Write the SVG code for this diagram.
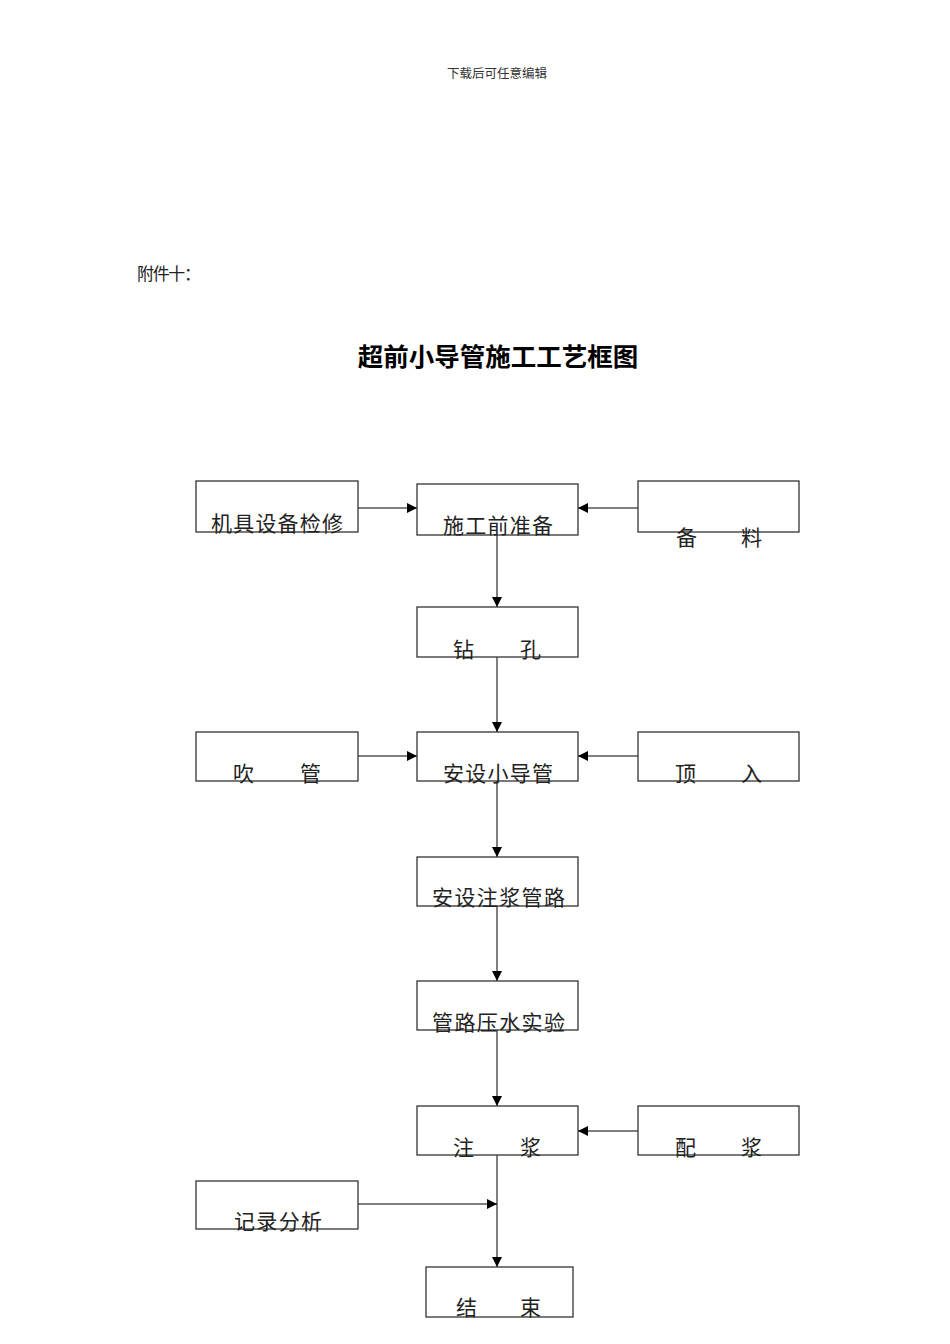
<svg xmlns="http://www.w3.org/2000/svg" width="950" height="1344" viewBox="0 0 950 1344">
<style>
.box{fill:#fff;stroke:#333;stroke-width:1.3}
.lbl{font-family:"Noto Sans CJK SC",sans-serif;font-size:21px;fill:#222}
.edge{stroke:#000;stroke-width:1;fill:none}
</style>
<defs>
<marker id="ah" markerUnits="userSpaceOnUse" markerWidth="10" markerHeight="10" refX="10" refY="5" orient="auto">
<path d="M0,0 L10,5 L0,10 z" fill="#000"/>
</marker>
</defs>
<rect width="950" height="1344" fill="#fff"/>
<text x="497" y="78" text-anchor="middle" font-family="Noto Sans CJK SC, sans-serif" font-size="12.5" fill="#333">下载后可任意编辑</text>
<text x="137" y="280" font-family="Noto Sans CJK SC, sans-serif" font-size="17" fill="#222" textLength="64">附件十：</text>
<text x="498" y="366" text-anchor="middle" font-family="Noto Sans CJK SC, sans-serif" font-size="25.5" font-weight="bold" fill="#000">超前小导管施工工艺框图</text>

<g id="connectors">
<line class="edge" x1="358" y1="508" x2="417" y2="508" marker-end="url(#ah)"/>
<line class="edge" x1="638" y1="508" x2="578" y2="508" marker-end="url(#ah)"/>
<line class="edge" x1="497" y1="535" x2="497" y2="607" marker-end="url(#ah)"/>
<line class="edge" x1="497" y1="657" x2="497" y2="732" marker-end="url(#ah)"/>
<line class="edge" x1="358" y1="756" x2="417" y2="756" marker-end="url(#ah)"/>
<line class="edge" x1="638" y1="756" x2="578" y2="756" marker-end="url(#ah)"/>
<line class="edge" x1="497" y1="781" x2="497" y2="857" marker-end="url(#ah)"/>
<line class="edge" x1="497" y1="906" x2="497" y2="981" marker-end="url(#ah)"/>
<line class="edge" x1="497" y1="1030" x2="497" y2="1106" marker-end="url(#ah)"/>
<line class="edge" x1="638" y1="1131" x2="578" y2="1131" marker-end="url(#ah)"/>
<line class="edge" x1="358" y1="1204" x2="497" y2="1204" marker-end="url(#ah)"/>
<line class="edge" x1="497" y1="1155" x2="497" y2="1267" marker-end="url(#ah)"/>
</g>

<g id="n-jiju"><rect class="box" x="196" y="481" width="162" height="51"/><text class="lbl" x="211" y="531" textLength="132">机具设备检修</text></g>
<g id="n-prep"><rect class="box" x="417" y="484" width="161" height="51"/><text class="lbl" x="443" y="533" textLength="110">施工前准备</text></g>
<g id="n-beiliao"><rect class="box" x="638" y="481" width="161" height="51"/><text class="lbl" x="676 698 741" y="545">备 料</text></g>
<g id="n-zuankong"><rect class="box" x="417" y="607" width="161" height="50"/><text class="lbl" x="453 475 520" y="657">钻 孔</text></g>
<g id="n-chuiguan"><rect class="box" x="196" y="732" width="162" height="49"/><text class="lbl" x="233 255 300" y="781">吹 管</text></g>
<g id="n-anshe"><rect class="box" x="417" y="732" width="161" height="49"/><text class="lbl" x="443" y="781" textLength="110">安设小导管</text></g>
<g id="n-dingru"><rect class="box" x="638" y="732" width="161" height="49"/><text class="lbl" x="675 697 741" y="781">顶 入</text></g>
<g id="n-zhujiangguanlu"><rect class="box" x="417" y="857" width="161" height="49"/><text class="lbl" x="432" y="905" textLength="133">安设注浆管路</text></g>
<g id="n-yashui"><rect class="box" x="417" y="981" width="161" height="49"/><text class="lbl" x="432" y="1030" textLength="133">管路压水实验</text></g>
<g id="n-zhujiang"><rect class="box" x="417" y="1106" width="161" height="49"/><text class="lbl" x="453 475 520" y="1155">注 浆</text></g>
<g id="n-peijiang"><rect class="box" x="638" y="1106" width="161" height="49"/><text class="lbl" x="675 697 741" y="1155">配 浆</text></g>
<g id="n-jilu"><rect class="box" x="196" y="1181" width="162" height="48"/><text class="lbl" x="234" y="1229" textLength="88">记录分析</text></g>
<g id="n-jieshu"><rect class="box" x="426" y="1267" width="147" height="50"/><text class="lbl" x="456 478 520" y="1315">结 束</text></g>
</svg>
